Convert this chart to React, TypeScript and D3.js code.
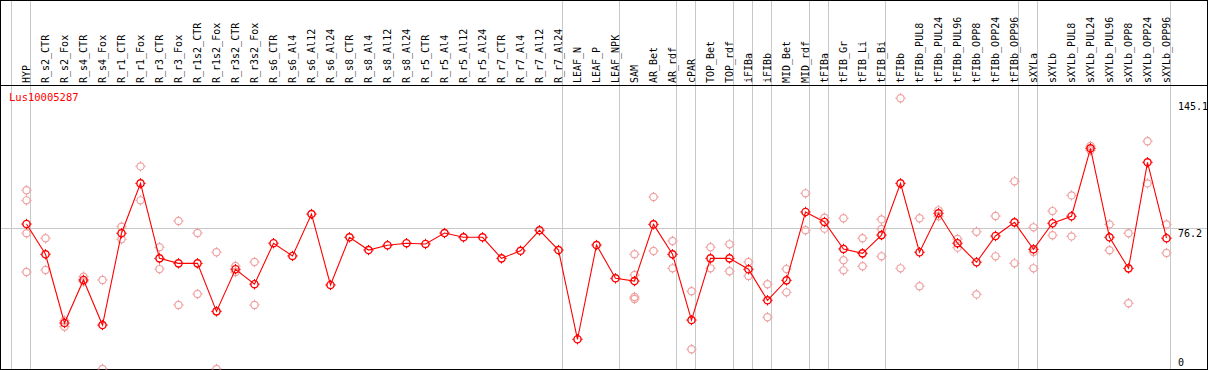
import React from "react";
import * as d3 from "d3";

const title = "Lus10005287";
const categories = [
  "HYP","R_s2_CTR","R_s2_Fox","R_s4_CTR","R_s4_Fox","R_r1_CTR","R_r1_Fox","R_r3_CTR","R_r3_Fox",
  "R_r1s2_CTR","R_r1s2_Fox","R_r3s2_CTR","R_r3s2_Fox","R_s6_CTR","R_s6_Al4","R_s6_Al12","R_s6_Al24",
  "R_s8_CTR","R_s8_Al4","R_s8_Al12","R_s8_Al24","R_r5_CTR","R_r5_Al4","R_r5_Al12","R_r5_Al24",
  "R_r7_CTR","R_r7_Al4","R_r7_Al12","R_r7_Al24","LEAF_N","LEAF_P","LEAF_NPK","SAM","AR_Bet","AR_rdf",
  "cPAR","TOP_Bet","TOP_rdf","iFIBa","iFIBb","MID_Bet","MID_rdf","tFIBa","tFIB_Gr","tFIB_Li","tFIB_Bi",
  "tFIBb","tFIBb_PUL8","tFIBb_PUL24","tFIBb_PUL96","tFIBb_OPP8","tFIBb_OPP24","tFIBb_OPP96",
  "sXYLa","sXYLb","sXYLb_PUL8","sXYLb_PUL24","sXYLb_PUL96","sXYLb_OPP8","sXYLb_OPP24","sXYLb_OPP96"
];

const means = [
  78.5, 62.1, 24.9, 48.2, 23.8, 73.5, 100.5, 59.9, 57.2, 57.2, 31.2, 54.0, 45.9,
  68.1, 61.2, 83.9, 45.5, 71.3, 64.4, 67.0, 68.1, 67.7, 73.6, 71.3, 71.3,
  59.9, 64.0, 75.1, 64.4, 16.1, 67.1, 49.1, 47.6, 78.3, 62.1,
  26.5, 59.9, 59.9, 54.0, 37.2, 48.0, 85.0, 79.6, 65.0, 62.6, 72.5,
  100.5, 63.2, 84.3, 68.1, 57.8, 72.0, 79.4,
  64.8, 78.9, 82.7, 119.5, 71.3, 54.5, 111.9, 70.8
];

const replicates: number[][] = [
  [96.75, 91.3, 73.5, 52.5], [70.8, 53.6], [26.2, 22.9], [50.0, 47.3], [48.2, 0],
  [77.0, 70.2], [109.7, 91.3], [65.9, 54.1], [80.1, 34.7], [73.6, 40.6], [63.2, 0],
  [55.8, 52.5], [57.9, 34.7],
  [], [], [], [], [], [], [], [], [], [], [], [], [], [], [], [],
  [], [], [], [62.1, 50.9, 39.0, 37.9], [93.1, 63.9], [69.3, 54.5],
  [42.1, 10.7], [65.9, 54.5], [67.5, 52.9], [57.9, 50.4], [45.9, 28.0], [54.1, 41.5],
  [95.1, 75.1], [81.9, 76.0], [81.6, 58.9, 53.4], [70.8, 55.6], [81.0, 75.8, 61.0],
  [146.6, 54.5], [81.6, 44.8], [85.9, 82.7], [70.4, 65.7], [74.3, 40.4], [82.8, 61.0], [101.6, 57.2],
  [76.7, 63.3, 54.5], [85.5, 72.4], [94.0, 71.8], [120.7, 118.3], [78.3, 64.3], [73.5, 35.6],
  [123.3, 100.5], [78.3, 62.8]
];

// group separators: index of last category in each group (-1 = left edge)
const groupEnds = [-1, 0, 28, 31, 34, 35, 37, 38, 39, 41, 42, 45, 52, 53, 60];

const yTicks = [145.1, 76.2, 0];
const gridValues = [76.2];

const W = 1209;
const H = 370;

function Marker({ cx, cy, color, sw }: { cx: number; cy: number; color: string; sw: number }) {
  const r = 3.6;
  const t = 1.6;
  return (
    <g stroke={color} strokeWidth={sw} fill="none">
      <circle cx={cx} cy={cy} r={r} />
      <line x1={cx} y1={cy - r - t} x2={cx} y2={cy - r} strokeWidth={1} />
      <line x1={cx} y1={cy + r} x2={cx} y2={cy + r + t} strokeWidth={1} />
      <line x1={cx - r - t} y1={cy} x2={cx - r} y2={cy} strokeWidth={1} />
      <line x1={cx + r} y1={cy} x2={cx + r + t} y2={cy} strokeWidth={1} />
    </g>
  );
}

export default function App() {
  const x = d3.scaleLinear().domain([0, categories.length - 1]).range([26.5, 26.5 + 19 * (categories.length - 1)]);
  const y = d3.scaleLinear().domain([0, 145.1]).range([369, 101]);
  const line = d3
    .line<number>()
    .x((_, i) => x(i))
    .y((d) => y(d));
  const font = "'DejaVu Sans Mono', monospace";

  return (
    <svg
      width={W}
      height={H}
      style={{ position: "absolute", left: 0, top: 0, background: "#fff" }}
    >
      <defs>
        <clipPath id="plot">
          <rect x={1} y={85} width={1206} height={284.5} />
        </clipPath>
      </defs>
      {/* grid lines */}
      {groupEnds.map((g) => {
        const px = Math.round(x(g) + 3.5) + 0.5;
        return <line key={g} x1={px} x2={px} y1={0} y2={369} stroke="#c8c8c8" strokeWidth={1} />;
      })}
      {gridValues.map((v) => (
        <line key={v} x1={1} x2={1208} y1={Math.round(y(v)) + 0.5} y2={Math.round(y(v)) + 0.5} stroke="#c8c8c8" strokeWidth={1} />
      ))}
      {/* frame */}
      <rect x={0.5} y={0.5} width={1207} height={369} fill="none" stroke="#000" strokeWidth={1} />
      <line x1={0} x2={1208} y1={85.5} y2={85.5} stroke="#000" strokeWidth={1} />

      {/* category labels */}
      {categories.map((c, i) => (
        <text
          key={c}
          transform={`translate(${x(i) + 3.5},83) rotate(-90)`}
          fontFamily={font}
          fontSize={10}
          fill="#000"
        >
          {c}
        </text>
      ))}

      <text x={9} y={101} fontFamily={font} fontSize={10.5} fill="#ff0000">
        {title}
      </text>

      {yTicks.map((t, i) => (
        <text
          key={t}
          x={1178}
          y={i === 2 ? 366 : y(t) + 8.5}
          fontFamily={font}
          fontSize={10}
          fill="#000"
        >
          {String(t)}
        </text>
      ))}

      <g clipPath="url(#plot)">
        {replicates.map((reps, i) =>
          reps.map((v, j) => (
            <Marker key={`${i}-${j}`} cx={x(i)} cy={y(v)} color="#f0a0a0" sw={1.2} />
          ))
        )}
        <path d={line(means) ?? ""} fill="none" stroke="#ff0000" strokeWidth={1.1} />
        {means.map((v, i) => (
          <Marker key={i} cx={x(i)} cy={y(v)} color="#ff0000" sw={1.4} />
        ))}
      </g>
    </svg>
  );
}
